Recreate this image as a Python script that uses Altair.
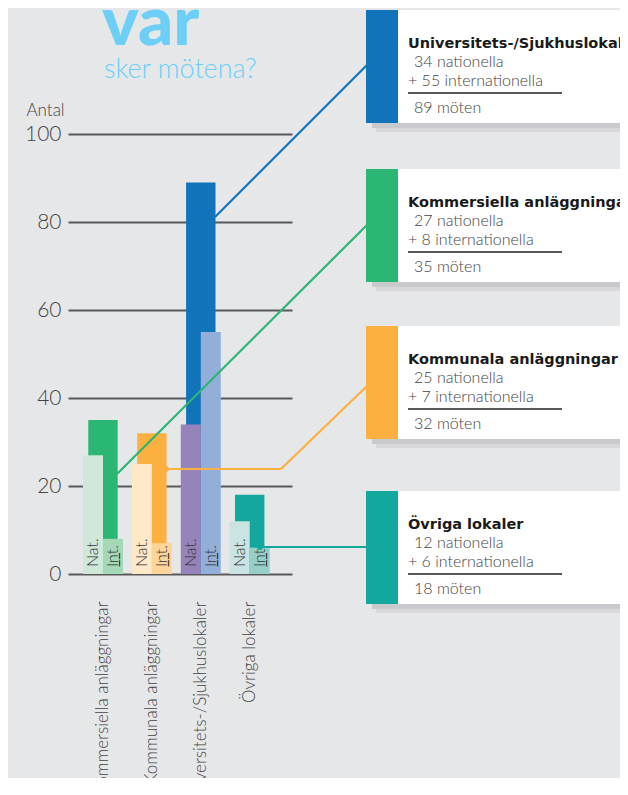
import altair as alt
import pandas as pd

# ---------------- data ----------------
categories = ["Kommersiella anläggningar", "Kommunala anläggningar",
              "Universitets-/Sjukhuslokaler", "Övriga lokaler"]
nationella = [27, 25, 34, 12]
internationella = [8, 7, 55, 6]
totals = [35, 32, 89, 18]
main_colors = ["#2bb673", "#fbb040", "#1173b9", "#13a89e"]
nat_colors = ["#cfe8da", "#fde8c8", "#9683b9", "#c9e4e2"]
int_colors = ["#a4d8b6", "#fdd59a", "#92aed9", "#95cfc8"]
series_labels = ["Nat.", "Int."]
y_ticks = [0, 20, 40, 60, 80, 100]
box_order = [2, 0, 1, 3]          # order of the info boxes (top to bottom)
title_main = "var"
title_sub = "sker mötena?"
y_title = "Antal"

# ---------------- layout helpers ----------------
OX, OY = 68, 134           # page position of plot origin
LIGHT = "Lato"
BOLD = "DejaVu Sans"
BG = "#e6e7e8"


def px(x):
    return x - OX


def py(y):
    return y - OY


def deco():
    return alt.Chart(pd.DataFrame({"d": [0]}))


def rule(x1, y1, x2, y2, color, width=2.2):
    return deco().mark_rule(color=color, strokeWidth=width).encode(
        x=alt.value(px(x1)), y=alt.value(py(y1)),
        x2=alt.value(px(x2)), y2=alt.value(py(y2)))


def rect(x1, y1, x2, y2, color, opacity=1.0):
    return deco().mark_rect(color=color, opacity=opacity).encode(
        x=alt.value(px(x1)), y=alt.value(py(y1)),
        x2=alt.value(px(x2)), y2=alt.value(py(y2)))


def label(x, y, txt, size, color="#444", weight=300, font=LIGHT, baseline="middle"):
    return deco().mark_text(text=txt, align="left", baseline=baseline, font=font,
                            fontSize=size, fontWeight=weight, color=color).encode(
        x=alt.value(px(x)), y=alt.value(py(y)))


def dot(x, y, color):
    return deco().mark_point(filled=True, color=color, size=34, opacity=1).encode(
        x=alt.value(px(x)), y=alt.value(py(y)))


# ---------------- tables ----------------
tot_df = pd.DataFrame({"kategori": categories, "antal": totals, "color": main_colors})
rows = []
for i, c in enumerate(categories):
    rows.append({"kategori": c, "serie": series_labels[0], "varde": nationella[i], "color": nat_colors[i]})
    rows.append({"kategori": c, "serie": series_labels[1], "varde": internationella[i], "color": int_colors[i]})
sub_df = pd.DataFrame(rows)

xscale = alt.Scale(paddingInner=0.182, paddingOuter=0.381, align=0.402)
yscale = alt.Scale(domain=[0, 100], nice=False)

xaxis = alt.Axis(title=None, labelAngle=-90, labelPadding=27, ticks=False, domain=False,
                 labelFontSize=17, labelFont=LIGHT, labelFontWeight=300, labelColor="#444",
                 labelLimit=1000)
yaxis = alt.Axis(values=y_ticks, grid=True, gridColor="#58595b", gridWidth=2,
                 domain=False, ticks=False, labelPadding=7, labelFontSize=21,
                 labelFont=LIGHT, labelFontWeight=300, labelColor="#444",
                 title=y_title, titleAngle=0, titleAlign="left", titleBaseline="middle",
                 titleX=-42, titleY=-24, titleFontSize=17, titleFont=LIGHT,
                 titleFontWeight=300, titleColor="#444")

X = alt.X("kategori:N", sort=categories, scale=xscale, axis=xaxis)
XO = alt.XOffset("serie:N", sort=series_labels, scale=alt.Scale(paddingInner=0, paddingOuter=0))

total_bars = alt.Chart(tot_df).mark_bar(width=alt.RelativeBandSize(0.735)).encode(
    x=X,
    y=alt.Y("antal:Q", scale=yscale, axis=yaxis),
    color=alt.Color("color:N", scale=None))

sub_bars = alt.Chart(sub_df).mark_bar().encode(
    x=X, xOffset=XO,
    y=alt.Y("varde:Q", scale=yscale),
    color=alt.Color("color:N", scale=None))

sub_text = alt.Chart(sub_df).mark_text(angle=270, align="left", baseline="middle", dx=7,
                                       fontSize=16, font=LIGHT, fontWeight=300,
                                       color="#333").encode(
    x=X, xOffset=XO, y=alt.datum(0), text="serie:N")

# underline under the "Int." labels
int_underline = alt.Chart(sub_df).transform_filter(
    alt.datum.serie == series_labels[1]
).mark_text(angle=270, align="left", baseline="middle", dx=7, fontSize=16,
            font=LIGHT, fontWeight=400, color="#111", text="__").encode(
    x=X, xOffset=XO, y=alt.datum(0))

layers = [total_bars, sub_bars, sub_text, int_underline]

# connectors
layers += [
    rule(215, 217, 367, 65, main_colors[2]),
    rule(117, 474, 367, 225, main_colors[0]),
    rule(166, 469, 281, 469, main_colors[1]),
    rule(281, 469, 367, 386, main_colors[1]),
    rule(260, 547, 367, 547, main_colors[3]),
    dot(166, 469, main_colors[1]),
    dot(260, 547, main_colors[3]),
]

# info boxes
box_tops = [10, 169, 326, 491]
BOX_H = 113
for top, idx in zip(box_tops, box_order):
    bottom = top + BOX_H
    layers += [
        rect(372, bottom, 640, bottom + 5, "#c2c3c5", 0.8),
        rect(376, bottom + 5, 640, bottom + 9, "#d4d5d7", 0.8),
        rect(366, top, 398, bottom, main_colors[idx]),
        rect(398, top, 640, bottom, "#ffffff"),
        label(408, top + 38, categories[idx], 14.5, color="#1a1a1a", weight="bold",
              font=BOLD, baseline="alphabetic"),
        label(414, top + 52, f"{nationella[idx]} nationella", 16),
        label(408, top + 71, f"+ {internationella[idx]} internationella", 16),
        rule(408, top + 83, 562, top + 83, "#222", 1.3),
        label(414, top + 98, f"{totals[idx]} möten", 16),
    ]

# title
layers += [
    label(102, 45, title_main, 69, color="#6dcff6", weight=900, font=LIGHT, baseline="alphabetic"),
    label(104, 78, title_sub, 27, color="#6dcff6", weight=300, font=LIGHT, baseline="alphabetic"),
]

chart = alt.layer(*layers).properties(
    width=224, height=440,
    padding={"left": 60, "top": 126, "right": 328, "bottom": 204},
    autosize=alt.AutoSizeParams(type="none"),
    background=BG,
).configure_view(stroke=None)

chart.save("out.html", embed_options={"renderer": "svg", "actions": False})
